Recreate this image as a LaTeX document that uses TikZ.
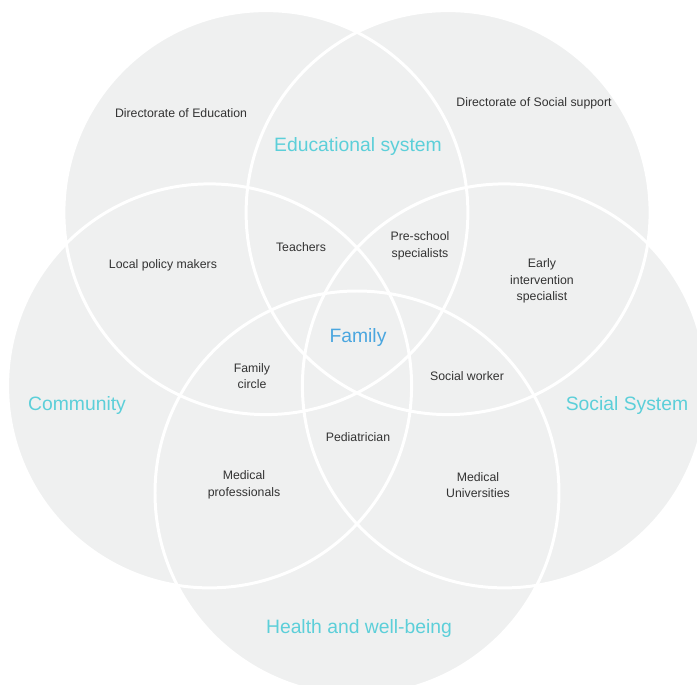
\documentclass[tikz,border=0pt]{standalone}
\usepackage{fontspec}
\setmainfont{Liberation Sans}
\definecolor{relleno}{HTML}{EFF0F0}
\definecolor{turquesa}{HTML}{5CCFD9}
\definecolor{azulfam}{HTML}{4AA6DF}
\definecolor{texto}{HTML}{333333}
\begin{document}
\begin{tikzpicture}[
		actor/.style={font=\fontsize{7}{9.4}\selectfont,text=texto,align=center,inner sep=1pt},
		sistema/.style={font=\fontsize{11}{13}\selectfont,text=turquesa,inner sep=1pt}
	]
		
		% Marco
		\path[fill=white,use as bounding box] (-7.14,-6.92) rectangle (6.80,6.76);
		
		% Círculos
		\foreach \a in {126,54,342,270,198}
			\fill[relleno] (\a:3.1) circle[radius=4.04];
		\foreach \a in {126,54,342,270,198}
			\draw[white,line width=1.7pt] (\a:3.1) circle[radius=4.04];
		
		% Sistemas
		\node[sistema] (edu) at (0.02,3.82) {Educational system};
		\node[sistema] (com) at (-5.6,-1.36) {Community};
		\node[sistema] (soc) at (5.4,-1.36) {Social System};
		\node[sistema] (sal) at (0.04,-5.8) {Health and well-being};
		\node[sistema,text=azulfam] (fam) at (0.02,0) {Family};
		
		% Actores
		\node[actor] (direDu) at (-3.52,4.5) {Directorate of Education};
		\node[actor] (dirSoc) at (3.54,4.7) {Directorate of Social support};
		\node[actor] (local) at (-3.88,1.46) {Local policy makers};
		\node[actor] (maestros) at (-1.12,1.82) {Teachers};
		\node[actor] (presc) at (1.26,1.84) {Pre-school\\specialists};
		\node[actor] (temprana) at (3.7,1.14) {Early\\intervention\\specialist};
		\node[actor] (circulo) at (-2.1,-0.76) {Family\\circle};
		\node[actor] (trabSoc) at (2.2,-0.76) {Social worker};
		\node[actor] (pediatra) at (0.02,-1.98) {Pediatrician};
		\node[actor] (medProf) at (-2.26,-2.94) {Medical\\professionals};
		\node[actor] (medUni) at (2.42,-2.94) {Medical\\Universities};
		
	\end{tikzpicture}
\end{document}
